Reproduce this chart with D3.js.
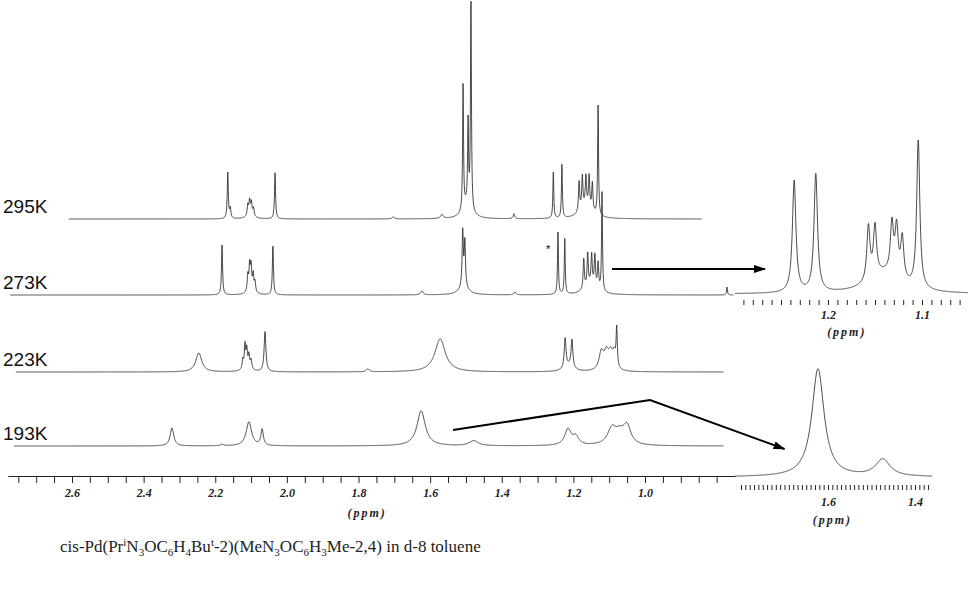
<!DOCTYPE html>
<html>
<head>
<meta charset="utf-8">
<script src="https://cdn.jsdelivr.net/npm/d3@7"></script>
<style>
  body { margin: 0; background: #fff; }
  .trace { fill: none; stroke: #2a2a2a; stroke-width: 0.85; stroke-linejoin: round; }
  .temp { font-family: "Liberation Sans", Arial, sans-serif; font-size: 19px; fill: #111; }
  .ppm { font-family: "Liberation Serif", "Times New Roman", serif; font-style: italic; font-weight: bold; font-size: 12px; fill: #222; }
  .axis path, .axis line { stroke: #222; }
</style>
</head>
<body>
<div id="viz"></div>
<script>
// temperatures, top to bottom
var temps = ["295K", "273K", "223K", "193K"];

// peaks: [ppm, height, width in ppm]
var peaks295 = [
  [2.165, 46, 0.0035], [2.158, 10, 0.004],
  [2.109, 10, 0.004], [2.104, 13, 0.004], [2.099, 12, 0.004], [2.093, 8, 0.004], [2.103, 5, 0.02],
  [2.033, 46, 0.0035],
  [1.703, 2, 0.008], [1.567, 4, 0.008],
  [1.508, 125, 0.003], [1.494, 82, 0.003], [1.486, 215, 0.003], [1.497, 14, 0.028],
  [1.366, 5, 0.005],
  [1.256, 46, 0.003], [1.232, 55, 0.003],
  [1.184, 30, 0.004], [1.175, 32, 0.004], [1.165, 30, 0.004], [1.156, 32, 0.004], [1.147, 28, 0.004], [1.165, 12, 0.04],
  [1.131, 110, 0.003]
];
var peaks273 = [
  [2.181, 50, 0.0035],
  [2.109, 16, 0.004], [2.104, 24, 0.004], [2.100, 22, 0.004], [2.094, 16, 0.004], [2.089, 10, 0.004], [2.100, 5, 0.02],
  [2.039, 50, 0.0035],
  [1.623, 4, 0.008],
  [1.509, 55, 0.004], [1.503, 45, 0.004], [1.506, 8, 0.03],
  [1.363, 3, 0.006],
  [1.243, 62, 0.003], [1.224, 56, 0.003],
  [1.171, 30, 0.004], [1.160, 32, 0.004], [1.149, 30, 0.004], [1.140, 32, 0.004], [1.131, 26, 0.004], [1.152, 10, 0.04],
  [1.120, 100, 0.003],
  [0.771, 8, 0.003]
];
var peaks223 = [
  [2.246, 19, 0.02],
  [2.123, 9, 0.004], [2.117, 22, 0.004], [2.112, 16, 0.004], [2.106, 12, 0.004], [2.100, 9, 0.005], [2.112, 6, 0.02],
  [2.061, 40, 0.006],
  [1.774, 3, 0.01],
  [1.572, 33, 0.035],
  [1.223, 30, 0.006], [1.204, 28, 0.006], [1.213, 5, 0.03],
  [1.122, 18, 0.015], [1.108, 16, 0.015], [1.096, 16, 0.015], [1.086, 14, 0.01], [1.079, 38, 0.004]
];
var peaks193 = [
  [2.321, 18, 0.012],
  [2.181, 1.5, 0.01],
  [2.106, 24, 0.018], [2.069, 16, 0.008],
  [1.625, 35, 0.028],
  [1.478, 5, 0.03],
  [1.215, 16, 0.022], [1.193, 8, 0.02],
  [1.092, 16, 0.03], [1.070, 10, 0.03], [1.050, 18, 0.025]
];
// expanded views
var zoom273 = [
  [1.236, 112, 0.0045], [1.213, 118, 0.0045],
  [1.157, 54, 0.004], [1.150, 50, 0.004], [1.132, 50, 0.004], [1.127, 48, 0.004], [1.121, 42, 0.004], [1.140, 20, 0.04],
  [1.104, 148, 0.004]
];
var zoom193 = [[1.623, 108, 0.034], [1.474, 17, 0.04]];

// axis labels
var axisLabels = [2.6, 2.4, 2.2, 2.0, 1.8, 1.6, 1.4, 1.2, 1.0];
var zoom273Labels = [1.2, 1.1];
var zoom193Labels = [1.6, 1.4];

var width = 970, height = 596;

var svg = d3.select("#viz")
    .append("svg")
    .attr("width", width)
    .attr("height", height);

// main ppm scale (reversed, as usual for NMR)
var x = d3.scaleLinear().domain([2.6, 1.0]).range([72, 645]);
var xz1 = d3.scaleLinear().domain([1.2, 1.1]).range([828, 922]);
var xz2 = d3.scaleLinear().domain([1.6, 1.4]).range([828, 915]);
// intensity -> pixels above a baseline
var y = d3.scaleLinear().domain([0, 100]).range([0, -100]);

var tracks = [
  {name: temps[0], peaks: peaks295, base: 219, from: 2.609, to: 0.842},
  {name: temps[1], peaks: peaks273, base: 295, from: 2.773, to: 0.753},
  {name: temps[2], peaks: peaks223, base: 372, from: 2.757, to: 0.781},
  {name: temps[3], peaks: peaks193, base: 446, from: 2.762, to: 0.781}
];

function spectrum(peaks) {
  return function (p) {
    return d3.sum(peaks, function (k) {
      var u = (p - k[0]) / (k[2] / 2);
      return k[1] / (1 + u * u);
    });
  };
}

function drawTrace(scale, peaks, base, from, to) {
  var f = spectrum(peaks);
  var n = Math.round(Math.abs(scale(to) - scale(from)) * 4);
  var grid = d3.range(n + 1).map(function (i) { return from + (to - from) * i / n; });
  svg.append("path")
      .attr("class", "trace")
      .datum(grid)
      .attr("d", d3.line()
          .x(function (d) { return scale(d); })
          .y(function (d) { return base + y(f(d)); }));
}

tracks.forEach(function (t) {
  drawTrace(x, t.peaks, t.base, t.from, t.to);
  svg.append("text")
      .attr("class", "temp")
      .attr("x", 3)
      .attr("y", t.base - 6)
      .text(t.name);
});

// asterisk on 273K trace
svg.append("text")
    .attr("x", x(1.26) - 6)
    .attr("y", tracks[1].base - 42)
    .style("font", "11px 'Liberation Sans', sans-serif")
    .text("*");

// main axis
var xAxisScale = x.copy().domain([2.779, 0.749]).range([x(2.779), x(0.749)]);
var minorTicks = d3.range(55, 14, -1).map(function (i) { return i * 0.05; })
    .filter(function (d) { return d <= 2.76 && d >= 0.76; });
svg.append("g")
    .attr("class", "axis")
    .attr("transform", "translate(0,476)")
    .call(d3.axisBottom(xAxisScale).tickValues(minorTicks).tickSize(7).tickSizeOuter(0).tickFormat(""));
svg.append("g")
    .attr("transform", "translate(0,476)")
    .call(d3.axisBottom(xAxisScale).tickValues(axisLabels).tickSize(0).tickPadding(12).tickFormat(d3.format(".1f")))
    .call(function (g) { g.select(".domain").remove(); })
    .selectAll("text").attr("class", "ppm");
svg.append("text")
    .attr("class", "ppm")
    .attr("x", x(1.776))
    .attr("y", 517)
    .attr("text-anchor", "middle")
    .style("letter-spacing", "2px")
    .text("(ppm)");

// expanded 273K
drawTrace(xz1, zoom273, 294, 1.299, 1.051);
svg.append("g")
    .attr("class", "axis")
    .attr("transform", "translate(0,300)")
    .call(d3.axisBottom(xz1).tickValues(d3.range(129, 105, -1).map(function (i) { return i / 100; }))
        .tickSize(5).tickSizeOuter(0).tickFormat(""))
    .call(function (g) { g.select(".domain").remove(); });
svg.append("g")
    .attr("transform", "translate(0,300)")
    .call(d3.axisBottom(xz1).tickValues(zoom273Labels).tickSize(0).tickPadding(10).tickFormat(d3.format(".1f")))
    .call(function (g) { g.select(".domain").remove(); })
    .selectAll("text").attr("class", "ppm");
svg.append("text")
    .attr("class", "ppm")
    .attr("x", xz1(1.18))
    .attr("y", 336)
    .attr("text-anchor", "middle")
    .style("letter-spacing", "2px")
    .text("(ppm)");

// expanded 193K
drawTrace(xz2, zoom193, 477, 1.814, 1.361);
svg.append("g")
    .attr("class", "axis")
    .attr("transform", "translate(0,485)")
    .call(d3.axisBottom(xz2).tickValues(d3.range(180, 136, -1).map(function (i) { return i / 100; }))
        .tickSize(5).tickSizeOuter(0).tickFormat(""))
    .call(function (g) { g.select(".domain").remove(); });
svg.append("g")
    .attr("transform", "translate(0,485)")
    .call(d3.axisBottom(xz2).tickValues(zoom193Labels).tickSize(0).tickPadding(12).tickFormat(d3.format(".1f")))
    .call(function (g) { g.select(".domain").remove(); })
    .selectAll("text").attr("class", "ppm");
svg.append("text")
    .attr("class", "ppm")
    .attr("x", xz2(1.59))
    .attr("y", 524)
    .attr("text-anchor", "middle")
    .style("letter-spacing", "2px")
    .text("(ppm)");

// arrows linking traces to the expanded views
svg.append("defs").append("marker")
    .attr("id", "head")
    .attr("markerUnits", "userSpaceOnUse")
    .attr("viewBox", "0 0 12 8")
    .attr("refX", 11).attr("refY", 4)
    .attr("markerWidth", 12).attr("markerHeight", 8)
    .attr("orient", "auto")
    .append("path").attr("d", "M0,0L12,4L0,8z").attr("fill", "#000");

var arrow = d3.line().x(function (d) { return d[0]; }).y(function (d) { return d[1]; });
svg.append("path")
    .attr("d", arrow([[x(1.092), tracks[1].base + y(26)], [xz1(1.267), tracks[1].base + y(26)]]))
    .attr("fill", "none").attr("stroke", "#000").attr("stroke-width", 2)
    .attr("marker-end", "url(#head)");
svg.append("path")
    .attr("d", arrow([[x(1.536), tracks[3].base + y(16)], [x(0.986), tracks[3].base + y(46)], [xz2(1.70), 477 + y(28)]]))
    .attr("fill", "none").attr("stroke", "#000").attr("stroke-width", 2)
    .attr("marker-end", "url(#head)");

// caption
var cap = svg.append("text")
    .attr("x", 60)
    .attr("y", 552)
    .style("font", "17px 'Liberation Serif', 'Times New Roman', serif")
    .style("fill", "#222");
var parts = [
  ["cis-Pd(Pr", 0], ["i", 1], ["N", 0], ["3", -1], ["OC", 0], ["6", -1], ["H", 0], ["4", -1], ["Bu", 0], ["t", 1],
  ["-2)(MeN", 0], ["3", -1], ["OC", 0], ["6", -1], ["H", 0], ["3", -1], ["Me-2,4) in d-8 toluene", 0]
];
var shift = 0;
parts.forEach(function (p) {
  var dy = p[1] === 1 ? -6 : p[1] === -1 ? 4 : 0;
  cap.append("tspan")
      .attr("dy", dy - shift)
      .style("font-size", p[1] ? "11px" : null)
      .text(p[0]);
  shift = dy;
});
</script>
</body>
</html>
